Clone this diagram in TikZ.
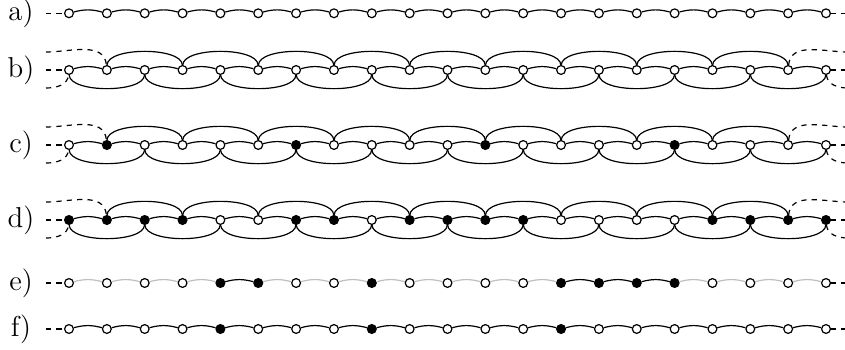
\documentclass[tikz,border=0pt]{standalone}
\usepackage{tikz}
\usetikzlibrary{positioning}

\begin{document}
\begin{tikzpicture}[
  x=1pt, y=1pt,
  st0/.style={circle, draw, fill=white, line width=0.6pt, inner sep=0pt, minimum size=4.4pt},
  st1/.style={st0, fill=black},
  link/.style={line width=0.6pt, bend left=15},
  faint/.style={link, draw=black!25},
  hopup/.style={line width=0.6pt, out=88, in=92, looseness=0.62},
  hopdn/.style={line width=0.6pt, out=-88, in=-92, looseness=0.62},
  stub/.style={line width=0.6pt, dash pattern=on 2.6pt off 2.6pt},
  lbl/.style={font=\Large}
]
\useasboundingbox (0,0) rectangle (422.5,174.5);

% row a: plain chain
\foreach \s [count=\i] in {0,0,0,0,0,0,0,0,0,0,0,0,0,0,0,0,0,0,0,0,0}
  \node[st\s] (a\i) at ({34.5+18.925*(\i-1)},167.85) {};
\foreach \i in {1,...,20}{
  \pgfmathtruncatemacro\j{\i+1}
  \draw[link] (a\i) to (a\j);
}
\coordinate (aL) at (23,167.85);
\coordinate (aR) at (424,167.85);
\draw[stub] (aL) -- (a1);
\draw[stub] (a21) -- (aR);

% rows b, c, d: chain with next-nearest hops
\foreach \r/\y/\states in {
  b/139.5/{0,0,0,0,0,0,0,0,0,0,0,0,0,0,0,0,0,0,0,0,0},
  c/102/{0,1,0,0,0,0,1,0,0,0,0,1,0,0,0,0,1,0,0,0,0},
  d/64.5/{1,1,1,1,0,0,1,1,0,1,1,1,1,0,0,0,0,1,1,1,1}}{
  \foreach \s [count=\i] in \states
    \node[st\s] (\r\i) at ({34.5+18.925*(\i-1)},\y) {};
  \foreach \i in {1,...,20}{
    \pgfmathtruncatemacro\j{\i+1}
    \draw[link] (\r\i) to (\r\j);
  }
  \foreach \i in {2,4,...,18}{
    \pgfmathtruncatemacro\j{\i+2}
    \draw[hopup] (\r\i) to (\r\j);
  }
  \foreach \i in {1,3,...,19}{
    \pgfmathtruncatemacro\j{\i+2}
    \draw[hopdn] (\r\i) to (\r\j);
  }
  \coordinate (\r UL) at (23,\y+9);
  \coordinate (\r ML) at (23,\y);
  \coordinate (\r DL) at (23,\y-9);
  \coordinate (\r UR) at (424,\y+9);
  \coordinate (\r MR) at (424,\y);
  \coordinate (\r DR) at (424,\y-9);
  \draw[stub] (\r UL) to[out=0, in=95] (\r2);
  \draw[stub] (\r ML) -- (\r1);
  \draw[stub] (\r DL) to[out=0, in=-95] (\r1);
  \draw[stub] (\r20) to[out=85, in=180] (\r UR);
  \draw[stub] (\r21) -- (\r MR);
  \draw[stub] (\r21) to[out=-85, in=180] (\r DR);
}

% row e: only links between filled sites are dark
\foreach \s [count=\i] in {0,0,0,0,1,1,0,0,1,0,0,0,0,1,1,1,1,0,0,0,0}
  \node[st\s] (e\i) at ({34.5+18.925*(\i-1)},33) {};
\foreach \k [count=\i] in {0,0,0,0,1,0,0,0,0,0,0,0,0,1,1,1,0,0,0,0}{
  \pgfmathtruncatemacro\j{\i+1}
  \ifnum\k=1 \draw[link] (e\i) to (e\j); \else \draw[faint] (e\i) to (e\j); \fi
}
\coordinate (eL) at (23,33);
\coordinate (eR) at (424,33);
\draw[stub] (eL) -- (e1);
\draw[stub] (e21) -- (eR);

% row f
\foreach \s [count=\i] in {0,0,0,0,1,0,0,0,1,0,0,0,0,1,0,0,0,0,0,0,0}
  \node[st\s] (f\i) at ({34.5+18.925*(\i-1)},10) {};
\foreach \i in {1,...,20}{
  \pgfmathtruncatemacro\j{\i+1}
  \draw[link] (f\i) to (f\j);
}
\coordinate (fL) at (23,10);
\coordinate (fR) at (424,10);
\draw[stub] (fL) -- (f1);
\draw[stub] (f21) -- (fR);

% labels
\node[lbl] (la) at (10.5,167.85) {a)};
\node[lbl] (lb) at (10.5,139.5) {b)};
\node[lbl] (lc) at (10.5,102) {c)};
\node[lbl] (ld) at (10.5,64.5) {d)};
\node[lbl] (le) at (10.5,33) {e)};
\node[lbl] (lf) at (10.5,10) {f)};
\end{tikzpicture}
\end{document}
